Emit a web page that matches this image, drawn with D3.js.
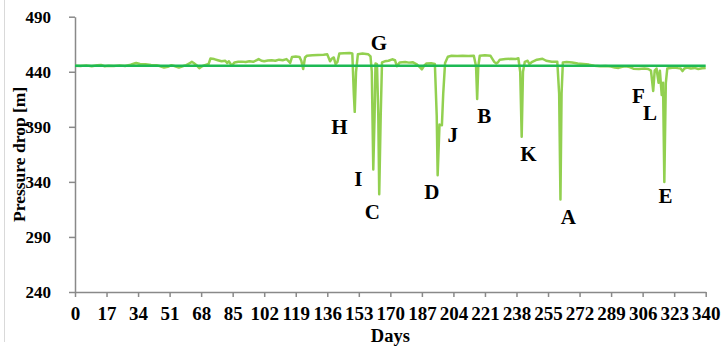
<!DOCTYPE html>
<html>
<head>
<meta charset="utf-8">
<script src="https://cdn.jsdelivr.net/npm/d3@7"></script>
<style>
  html, body { margin: 0; padding: 0; background: #fff; }
  svg { display: block; }
  text { font-family: "Liberation Serif", "Times New Roman", serif; font-weight: bold; fill: #000; }
</style>
</head>
<body>
<script>
// ---- data ----
const days = [0,3,6,9,12,14,16,18,21,24,27,30,32,33,35,38,41,44,46,48,50,52,54,56,58,60,62,63,64,65.5,67,68.5,70,72,73,75,77,79,81,82,83,84.5,86,88,90,92,94,96,98,99,100.5,102,104,106,108,110,112,114,115.5,116,117,119,121,122,123,124,125,128,131,134,136,137.5,138.5,139.5,140.5,141.5,142.5,145,148,149.5,150.3,150.8,151.5,152.5,155,158,159.3,160,160.8,161.5,162,162.8,163.5,164,164.8,165.5,167,169,171,172.5,173.5,175,178,180,182,184,186,187,188,189.5,192,194,195,195.5,196.5,197.8,198.5,199.5,201,203,206,209,212,215,216.2,216.8,217.4,218.2,221,224,226,227,228,229,232,235,237.5,239,240,240.8,241.5,242.5,244,245,246.5,249,252,254,257,260,261,261.7,262.3,263,265,268,271,274,277,280,283,286,289,291,293,295,297,299,301,304,307,309,310.5,311.7,312.5,313.5,314.6,315.3,316.3,317,317.7,318.5,319.3,321,323,325,326.5,327.5,328.5,330,332,334,336,338,340];
const pressure = [445.5,445.2,445.8,445,446,446.2,445,445.5,445.3,445.8,445.2,446.5,447.5,448,447,446.8,446.2,446,445,443.8,444.5,446,445,443.8,445,446,448,449,448,446,443.2,445,446,447,452,451.5,450.5,449.5,450,448,449.5,445.5,448.5,449,449.2,448.8,449.5,449,450.5,451.5,450,449.5,450.2,450.5,450,451,450.5,451.5,449,448,453.5,453.8,453.5,450,442.5,453,454.5,455,455.3,455.5,455.8,449.5,452,453,447,449,456.5,456.8,457,456.5,420,403.6,440,456,456.5,456,454,440,351.3,400,447.5,447,400,328.8,400,448.5,449.5,450,451.3,450.5,445,448.5,448.8,448.3,448.7,447,444,442.2,445,447.5,447.8,447,400,346,392,391.5,420,448,453.6,454.5,454.3,454.6,454.3,454.5,445,415.2,445,454.5,455,454.5,449,447.6,448.5,451,451.5,451.8,451.5,452.3,440,381,440,449,450,447,449,451,451.8,450,449,449,420,324,420,448.5,448.8,448.5,447.5,447,446.5,445.5,445,445.3,444.8,443.8,443.5,444.5,445,444.2,442.8,442.5,443,442.5,441,422.5,441,443,430,441,418.8,430,340,430,443,443.5,443.8,443.3,443,440.6,443,443.8,443,443.5,442.5,443.2,443.5];
const referenceValue = 445.5;
const xTicks = d3.range(0, 341, 17);
const yTicks = [240, 290, 340, 390, 440, 490];
const eventNames  = ["G","H","I","C","D","J","B","K","A","F","L","E"];
const eventDays   = [163.9,142.5,152.7,160.3,192.3,203.6,220.6,244.4,265.9,303.7,310,318.4];
const eventValues = [466.1,390,343.1,312.7,330.9,382.5,399.7,365.8,308.2,418.2,402.7,327.3];
const xTitle = "Days";
const yTitle = "Pressure drop [m]";

// ---- chart ----
const W = 721, H = 350;
const svg = d3.select("body").append("svg").attr("width", W).attr("height", H);

const x = d3.scaleLinear().domain([0, 340]).range([75, 705.7]);
const y = d3.scaleLinear().domain([240, 490]).range([292, 16.7]);

// light frame line at the left
svg.append("line").attr("x1", 4.5).attr("x2", 4.5).attr("y1", 0).attr("y2", 342)
  .attr("stroke", "#d9d9d9").attr("stroke-width", 1);

const axisColor = "#898989";

const xAxis = svg.append("g").attr("transform", `translate(0,${y(240)})`)
  .call(d3.axisBottom(x).tickValues(xTicks).tickFormat(d3.format("d")).tickSize(5).tickSizeOuter(0).tickPadding(10));
xAxis.selectAll("text").style("font-size", "19px").attr("fill", "#000");

const yAxis = svg.append("g").attr("transform", `translate(${x(0)},0)`)
  .call(d3.axisLeft(y).tickValues(yTicks).tickFormat(d3.format("d")).tickSize(6).tickSizeOuter(0).tickPadding(18));
yAxis.selectAll("text").style("font-size", "17px").attr("fill", "#000");

[xAxis, yAxis].forEach(g => {
  g.selectAll("path.domain").attr("stroke", axisColor).attr("stroke-width", 1.5);
  g.selectAll(".tick line").attr("stroke", axisColor).attr("stroke-width", 1.5);
  g.attr("font-family", null);
});

// data line
const pts = days.map((d, i) => [d, pressure[i]]);
svg.append("path").datum(pts)
  .attr("fill", "none").attr("stroke", "#92d050").attr("stroke-width", 2.5)
  .attr("stroke-linejoin", "round")
  .attr("d", d3.line().x(d => x(d[0])).y(d => y(d[1])));

// reference line
svg.append("line")
  .attr("x1", x(0)).attr("x2", x(340))
  .attr("y1", y(referenceValue)).attr("y2", y(referenceValue))
  .attr("stroke", "#1db954").attr("stroke-width", 2.5);

// event labels
svg.append("g").selectAll("text").data(eventNames).join("text")
  .attr("x", (d, i) => x(eventDays[i]))
  .attr("y", (d, i) => y(eventValues[i]))
  .attr("dy", "0.35em")
  .attr("text-anchor", "middle")
  .style("font-size", "21px")
  .text(d => d);

// axis titles
svg.append("text").attr("x", (x(0) + x(340)) / 2).attr("y", 342)
  .attr("text-anchor", "middle").style("font-size", "18.5px").text(xTitle);
svg.append("text")
  .attr("transform", `translate(25,${(y(240) + y(490)) / 2}) rotate(-90)`)
  .attr("text-anchor", "middle").style("font-size", "17.5px").text(yTitle);
</script>
</body>
</html>
